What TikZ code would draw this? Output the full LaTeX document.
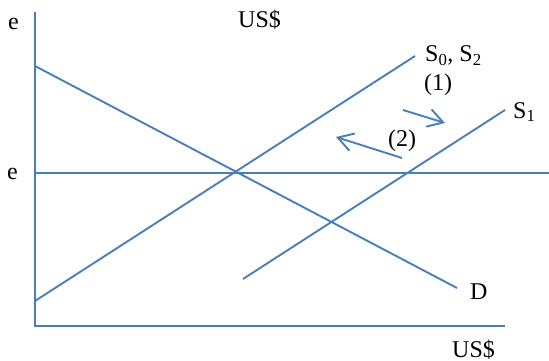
\documentclass[tikz,border=0pt]{standalone}
\usepackage{fontspec}
\setmainfont{Liberation Serif}
\usetikzlibrary{arrows.meta}
\definecolor{lineblue}{RGB}{74,126,187}
\begin{document}
\begin{tikzpicture}[x=1pt,y=-1pt,
  curve/.style={draw=lineblue,line width=1.9pt},
  axisline/.style={draw=lineblue,line width=2.1pt},
  shiftarrow/.style={draw=lineblue,line width=1.9pt,-{Straight Barb[length=15pt,width=18pt,line width=1.9pt]}},
  lbl/.style={inner sep=0pt,anchor=base west,font=\fontsize{24}{28}\selectfont}]
\useasboundingbox (0,0) rectangle (549,361);
% axes
\coordinate (ytop) at (35,12);
\coordinate (origin) at (35,326);
\coordinate (xend) at (505,326);
\draw[axisline] (ytop) -- (origin) -- (xend);
% exchange-rate line
\coordinate (eL) at (35,173);
\coordinate (eR) at (549,173);
\draw[curve] (eL) -- (eR);
% demand
\coordinate (dA) at (35,66);
\coordinate (dB) at (457,288);
\draw[curve] (dA) -- (dB);
% supply S0,S2
\coordinate (s0A) at (35,301);
\coordinate (s0B) at (415,56);
\draw[curve] (s0A) -- (s0B);
% supply S1
\coordinate (s1A) at (243,279);
\coordinate (s1B) at (505,110);
\draw[curve] (s1A) -- (s1B);
% shift arrows
\coordinate (a1s) at (403,110);
\coordinate (a1e) at (445,123);
\draw[shiftarrow] (a1s) -- (a1e);
\coordinate (a2s) at (402,158);
\coordinate (a2e) at (336,137);
\draw[shiftarrow] (a2s) -- (a2e);
% labels
\node[lbl] (etop) at (8,30) {e};
\node[lbl] (ustop) at (238,28) {US\$};
\node[lbl] (s0lbl) at (425,62) {S\textsubscript{0}, S\textsubscript{2}};
\node[lbl] (one) at (424,90) {(1)};
\node[lbl] (s1lbl) at (513,118) {S\textsubscript{1}};
\node[lbl] (two) at (388,146) {(2)};
\node[lbl] (emid) at (7,179) {e};
\node[lbl] (dlbl) at (470,299) {D};
\node[lbl] (usbot) at (452,357) {US\$};
\end{tikzpicture}
\end{document}
